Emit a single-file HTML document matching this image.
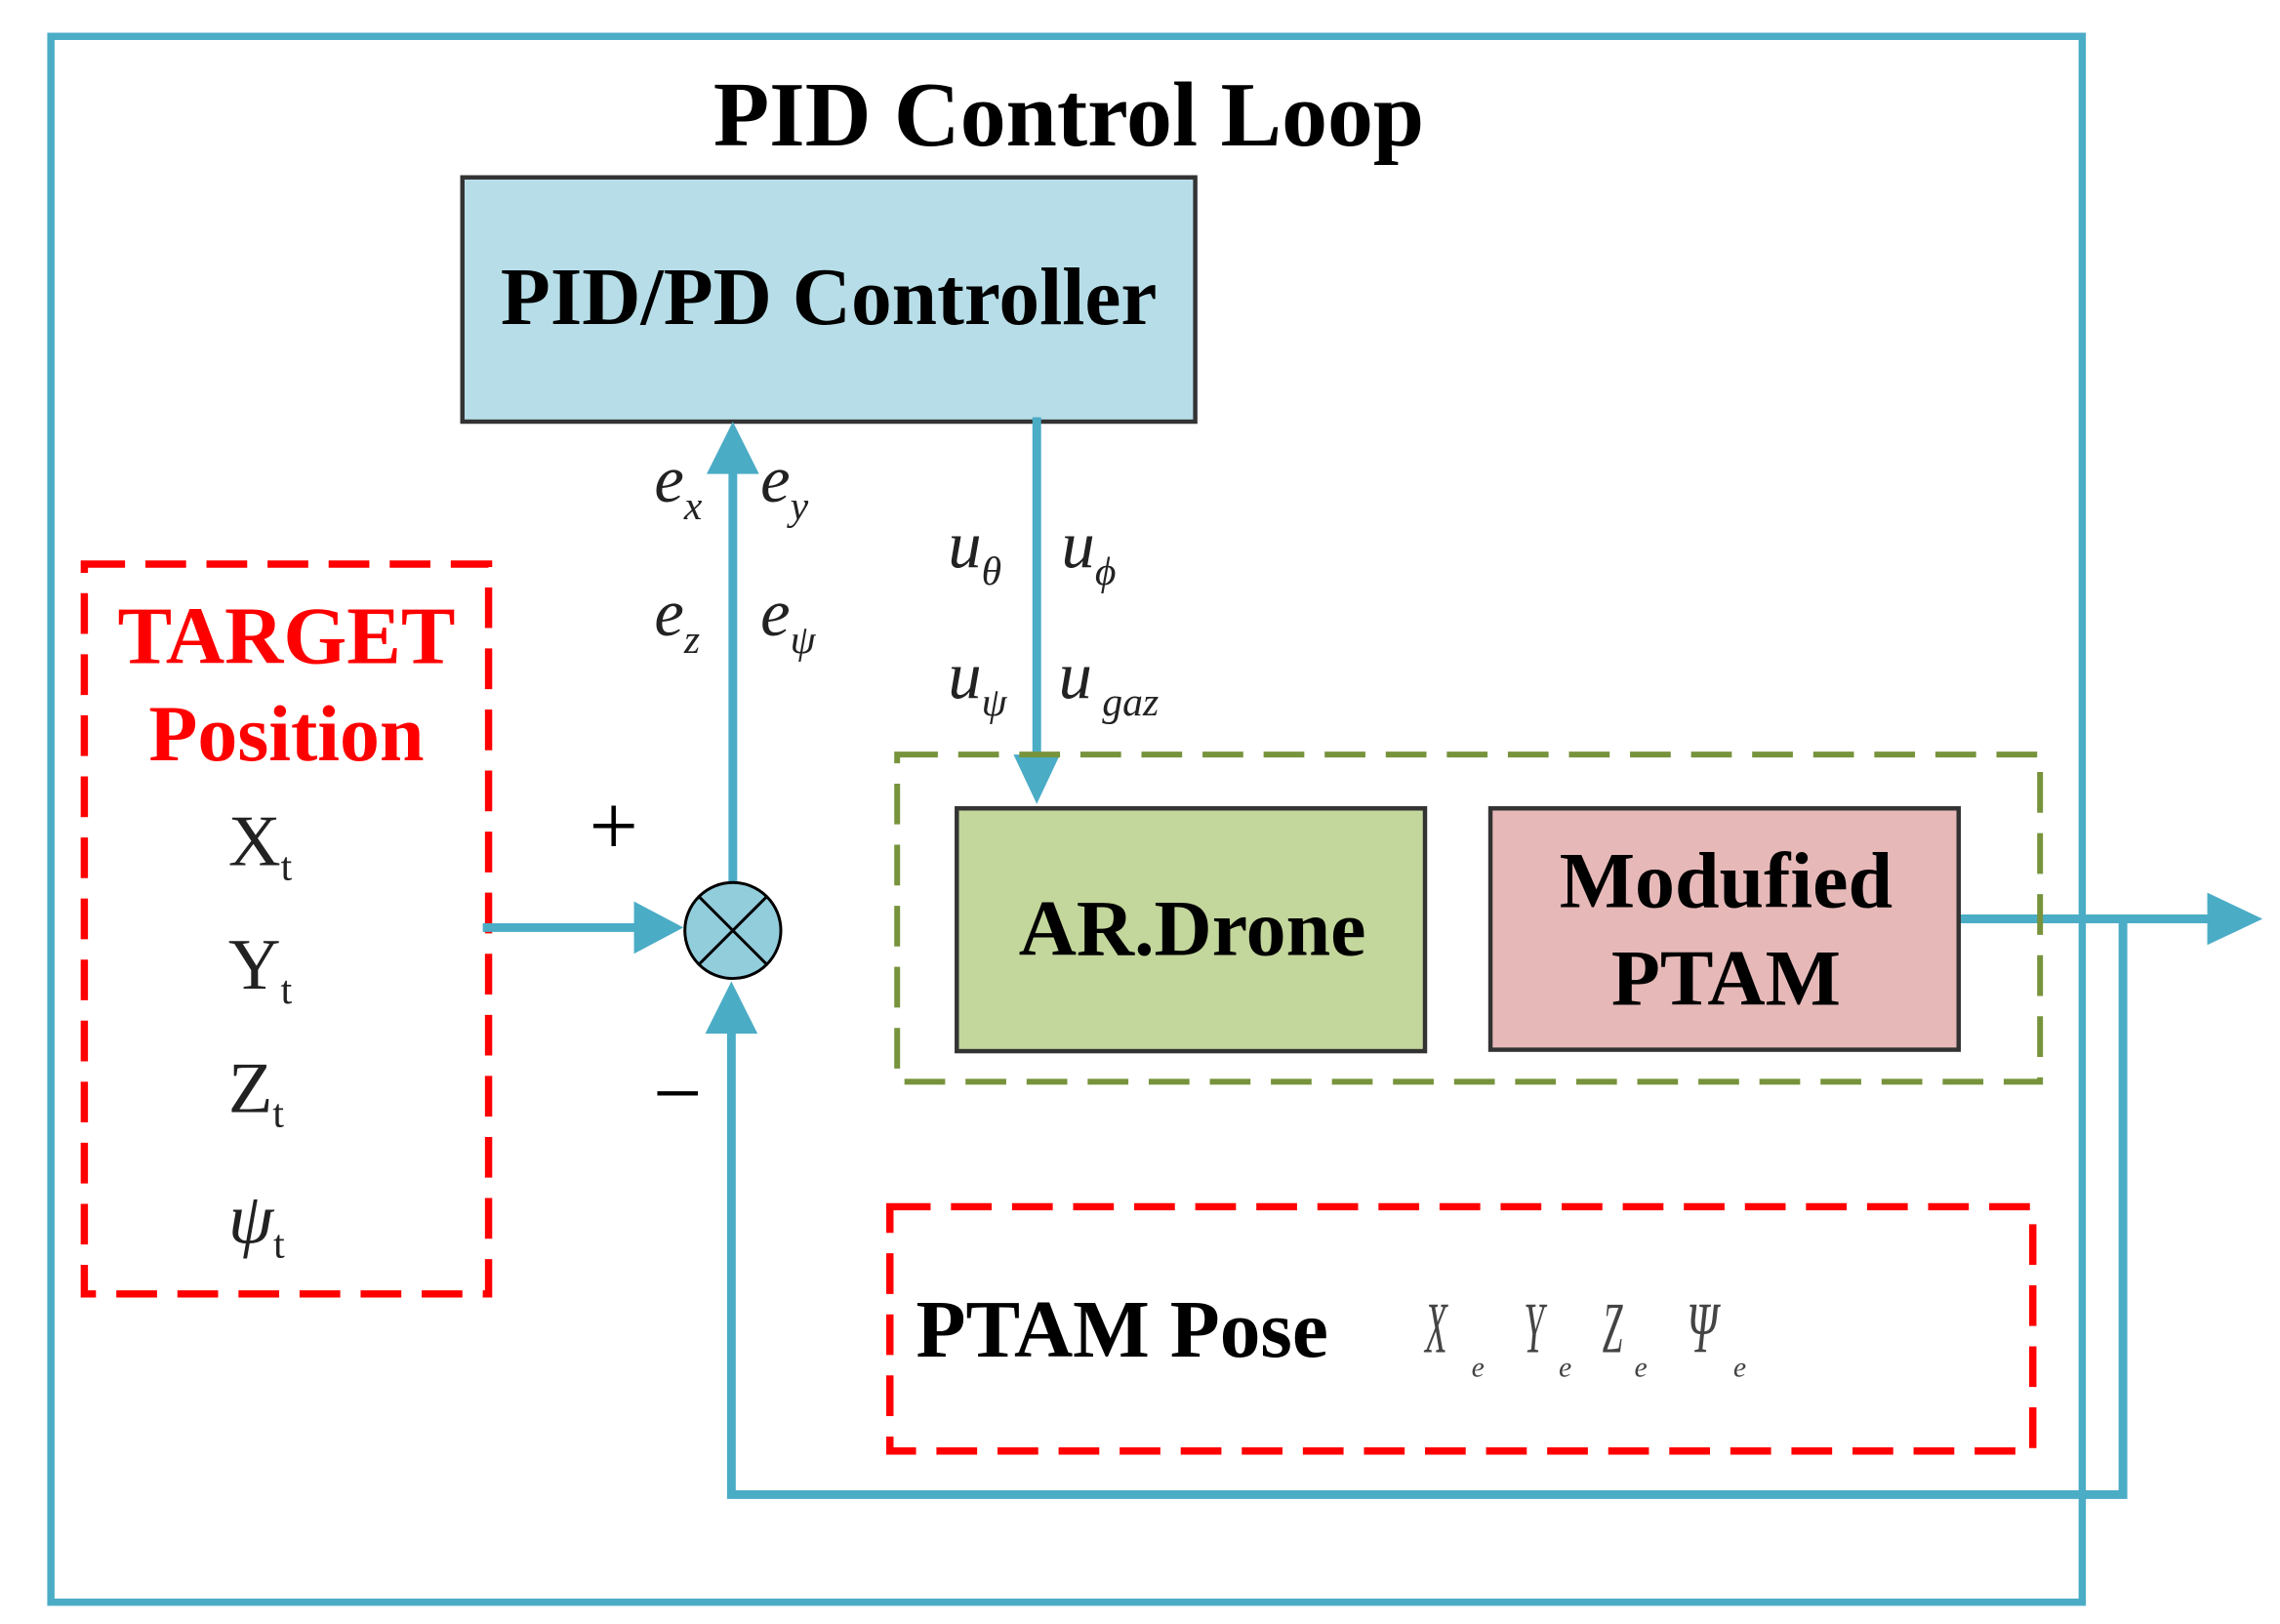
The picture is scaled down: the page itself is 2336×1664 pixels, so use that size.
<!DOCTYPE html>
<html><head><meta charset="utf-8"><style>html,body{margin:0;padding:0;background:#fff}svg{display:block}</style></head>
<body>
<svg width="2336" height="1664" viewBox="0 0 1568 1117" preserveAspectRatio="none" xmlns="http://www.w3.org/2000/svg" font-family="Liberation Serif, serif">
<rect width="1568" height="1117" fill="#fff"/>
<rect x="35" y="25" width="1397" height="1077" fill="none" stroke="#4BACC6" stroke-width="5"/>
<text x="735" y="100" text-anchor="middle" font-size="63" font-weight="bold">PID Control Loop</text>
<rect x="318" y="122" width="504" height="168" fill="#B7DEE8" stroke="#333" stroke-width="3"/>
<text x="570" y="223" text-anchor="middle" font-size="56" font-weight="bold">PID/PD Controller</text>
<rect x="58" y="388" width="278" height="502" fill="none" stroke="#f00" stroke-width="5" stroke-dasharray="28,14"/>
<text x="197" y="456" text-anchor="middle" font-size="56" font-weight="bold" fill="#f00">TARGET</text>
<text x="197" y="523" text-anchor="middle" font-size="55" font-weight="bold" fill="#f00">Position</text>
<g font-size="50" fill="#222">
<text x="157" y="595">X<tspan font-size="28" dy="10">t</tspan></text>
<text x="157" y="680">Y<tspan font-size="28" dy="10">t</tspan></text>
<text x="157" y="765">Z<tspan font-size="28" dy="10">t</tspan></text>
<text x="157" y="855" font-style="italic">ψ<tspan font-size="28" dy="10" font-style="normal">t</tspan></text>
</g>
<g stroke="#4BACC6" stroke-width="6" fill="none">
<line x1="332" y1="638" x2="440" y2="638"/>
<line x1="504" y1="607" x2="504" y2="322"/>
<line x1="713" y1="287" x2="713" y2="522"/>
<line x1="1343" y1="632" x2="1520" y2="632"/>
<polyline points="1460,632 1460,1028 503,1028 503,708"/>
</g>
<g fill="#4BACC6">
<polygon points="470,638 436,620 436,656"/>
<polygon points="504,290 486,326 522,326"/>
<polygon points="713,553 697,519 729,519"/>
<polygon points="1556,632 1518,614 1518,650"/>
<polygon points="503,675 485,711 521,711"/>
</g>
<circle cx="504" cy="640" r="33" fill="#92CDDC" stroke="#000" stroke-width="2"/>
<line x1="481" y1="617" x2="527" y2="663" stroke="#000" stroke-width="2"/>
<line x1="527" y1="617" x2="481" y2="663" stroke="#000" stroke-width="2"/>
<text x="422" y="588" text-anchor="middle" font-size="60">+</text>
<text x="466" y="772" text-anchor="middle" font-size="60">−</text>
<g font-size="46" font-style="italic" fill="#222">
<text x="450" y="345">e<tspan font-size="28" dy="12">x</tspan></text>
<text x="523" y="345">e<tspan font-size="28" dy="12">y</tspan></text>
<text x="450" y="437">e<tspan font-size="28" dy="12">z</tspan></text>
<text x="523" y="437">e<tspan font-size="28" dy="12">ψ</tspan></text>
<text x="652" y="390">u<tspan font-size="28" dy="12">θ</tspan></text>
<text x="730" y="390">u<tspan font-size="28" dy="12">ϕ</tspan></text>
<text x="652" y="480">u<tspan font-size="28" dy="12">ψ</tspan></text>
<text x="728" y="480">u<tspan font-size="28" dy="12"> gaz</tspan></text>
</g>
<rect x="617" y="519" width="786" height="225" fill="none" stroke="#77933C" stroke-width="4" stroke-dasharray="28,14"/>
<rect x="658" y="556" width="322" height="167" fill="#C3D69B" stroke="#333" stroke-width="3"/>
<text x="820" y="657" text-anchor="middle" font-size="55" font-weight="bold">AR.Drone</text>
<rect x="1025" y="556" width="322" height="166" fill="#E6B9B8" stroke="#333" stroke-width="3"/>
<text x="1187" y="624" text-anchor="middle" font-size="55" font-weight="bold">Modufied</text>
<text x="1187" y="691" text-anchor="middle" font-size="55" font-weight="bold">PTAM</text>
<rect x="612" y="830" width="786" height="168" fill="none" stroke="#f00" stroke-width="5" stroke-dasharray="28,14"/>
<text x="630" y="933" font-size="56" font-weight="bold">PTAM Pose</text>
<g font-size="50" fill="#444" font-style="italic">
<text x="980" y="930" transform="translate(980,0) scale(0.5,1) translate(-980,0)">X</text>
<text x="1048" y="930" transform="translate(1048,0) scale(0.5,1) translate(-1048,0)">Y</text>
<text x="1102" y="930" transform="translate(1102,0) scale(0.5,1) translate(-1102,0)">Z</text>
<text x="1160" y="930" transform="translate(1160,0) scale(0.6,1) translate(-1160,0)">Ψ</text>
<text x="1012" y="947" font-size="20">e</text>
<text x="1072" y="947" font-size="20">e</text>
<text x="1124" y="947" font-size="20">e</text>
<text x="1192" y="947" font-size="20">e</text>
</g>
</svg>
</body></html>
